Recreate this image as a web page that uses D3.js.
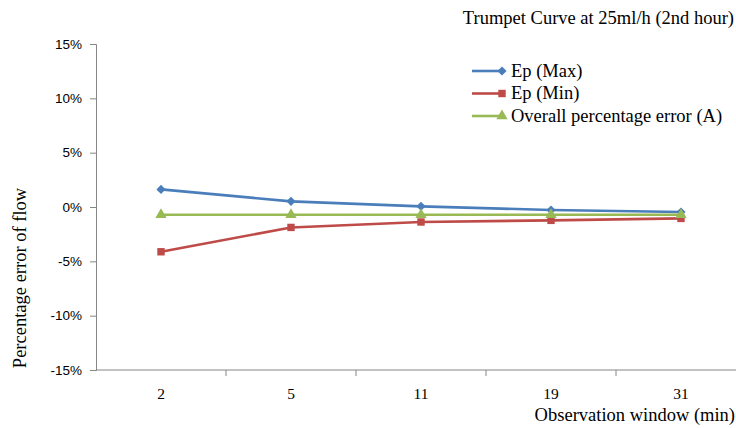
<!DOCTYPE html>
<html>
<head>
<meta charset="utf-8">
<script src="https://cdn.jsdelivr.net/npm/d3@7"></script>
<style>
  body { margin: 0; background: #fff; }
  svg { display: block; }
</style>
</head>
<body>
<div id="chart"></div>
<script>
// data
const windows = ["2", "5", "11", "19", "31"];
const epMax = [1.62, 0.52, 0.06, -0.28, -0.46];
const epMin = [-4.12, -1.88, -1.38, -1.23, -1.05];
const overall = [-0.71, -0.71, -0.71, -0.71, -0.71];
const yTicks = [-15, -10, -5, 0, 5, 10, 15];

const width = 736, height = 428;
const plotLeft = 96, plotTop = 44, plotBottom = 370, plotRight = 746;
const serif = "'Liberation Serif', 'Times New Roman', serif";

const svg = d3.select("#chart").append("svg")
    .attr("width", width)
    .attr("height", height);

let x = d3.scaleBand().domain(windows).range([plotLeft, plotRight]);
let y = d3.scaleLinear().domain([-15, 15]).range([plotBottom, plotTop]);

const axisColor = "#868686";

// y axis
let yAxis = svg.append("g")
    .attr("transform", `translate(${plotLeft},0)`)
    .call(d3.axisLeft(y).tickValues(yTicks).tickSize(6).tickPadding(8)
        .tickFormat(d => d + "%"));
yAxis.select(".domain").attr("stroke", axisColor);
yAxis.selectAll(".tick line").attr("stroke", axisColor);
yAxis.selectAll("text")
    .style("font-family", "'Liberation Sans', Arial, sans-serif")
    .style("font-size", "13.5px")
    .attr("fill", "#000");

// x axis (band boundaries as ticks)
let xg = svg.append("g");
xg.append("line")
    .attr("x1", plotLeft).attr("x2", plotRight)
    .attr("y1", plotBottom).attr("y2", plotBottom)
    .attr("stroke", axisColor);
xg.selectAll("line.tk").data(windows)
    .enter().append("line")
    .attr("class", "tk")
    .attr("x1", d => x(d) + x.bandwidth()).attr("x2", d => x(d) + x.bandwidth())
    .attr("y1", plotBottom).attr("y2", plotBottom + 6)
    .attr("stroke", axisColor);
xg.selectAll("text").data(windows)
    .enter().append("text")
    .attr("x", d => x(d) + x.bandwidth() / 2)
    .attr("y", plotBottom + 29)
    .attr("text-anchor", "middle")
    .style("font-family", serif)
    .style("font-size", "15.5px")
    .text(d => d);

// titles
svg.append("text")
    .attr("x", 734).attr("y", 24)
    .attr("text-anchor", "end")
    .style("font-family", serif)
    .style("font-size", "18.5px")
    .text("Trumpet Curve at 25ml/h (2nd hour)");

svg.append("text")
    .attr("x", 735).attr("y", 421)
    .attr("text-anchor", "end")
    .style("font-family", serif)
    .style("font-size", "18.5px")
    .text("Observation window (min)");

svg.append("text")
    .attr("transform", `translate(26, 278) rotate(-90)`)
    .attr("text-anchor", "middle")
    .style("font-family", serif)
    .style("font-size", "18.5px")
    .text("Percentage error of flow");

// series (diamond = square turned 45 degrees)
const series = [
    { name: "Ep (Max)", values: epMax, color: "#4a7ebb", symbol: d3.symbolSquare, size: 42, rot: 45 },
    { name: "Ep (Min)", values: epMin, color: "#be4b48", symbol: d3.symbolSquare, size: 55, rot: 0 },
    { name: "Overall percentage error (A)", values: overall, color: "#98b954", symbol: d3.symbolTriangle, size: 55, rot: 0 }
];

let line = d3.line()
    .x((d, i) => x(windows[i]) + x.bandwidth() / 2)
    .y(d => y(d));

series.forEach(s => {
    svg.append("path")
        .datum(s.values)
        .attr("fill", "none")
        .attr("stroke", s.color)
        .attr("stroke-width", 2.6)
        .attr("stroke-linejoin", "round")
        .attr("d", line);
    svg.selectAll(null).data(s.values)
        .enter().append("path")
        .attr("d", d3.symbol().type(s.symbol).size(s.size))
        .attr("transform", (d, i) => `translate(${x(windows[i]) + x.bandwidth() / 2},${y(d)}) rotate(${s.rot})`)
        .attr("fill", s.color);
});

// legend
let legend = svg.append("g");
series.forEach((s, i) => {
    let ly = 71 + i * 22.5;
    legend.append("line")
        .attr("x1", 472).attr("x2", 504)
        .attr("y1", ly).attr("y2", ly)
        .attr("stroke", s.color)
        .attr("stroke-width", 2.6);
    legend.append("path")
        .attr("d", d3.symbol().type(s.symbol).size(s.size))
        .attr("transform", `translate(502,${ly}) rotate(${s.rot})`)
        .attr("fill", s.color);
    legend.append("text")
        .attr("x", 511).attr("y", ly + 5.5)
        .style("font-family", serif)
        .style("font-size", "18.5px")
        .text(s.name);
});
</script>
</body>
</html>
